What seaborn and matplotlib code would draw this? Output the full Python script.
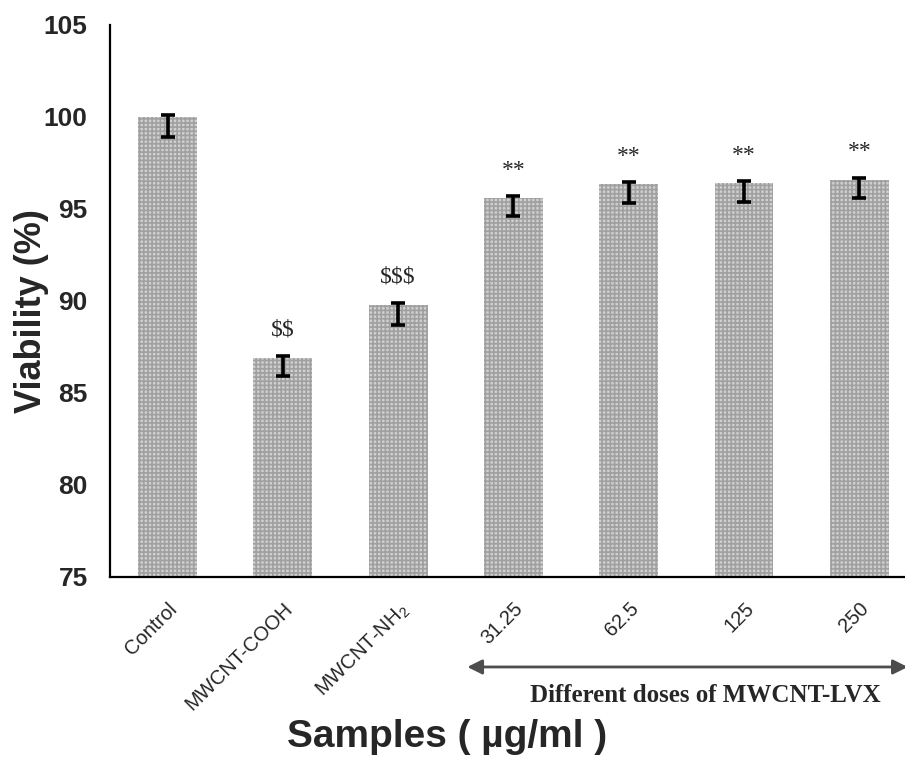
import matplotlib
matplotlib.use("Agg")
import matplotlib.pyplot as plt
import matplotlib.transforms as mtransforms
import seaborn as sns
import numpy as np

# ─── Data ─────────────────────────────────────────────────────────────────────
samples = ["Control", "MWCNT-COOH", r"MWCNT-NH$_\mathregular{2}$",
           "31.25", "62.5", "125", "250"]
viability = [100.0, 86.9, 89.8, 95.6, 96.35, 96.4, 96.6]
err_low = [1.1, 1.0, 1.1, 1.0, 1.0, 1.0, 1.0]
err_high = [0.1, 0.1, 0.1, 0.1, 0.1, 0.1, 0.1]
marks = ["", r"\$\$", r"\$\$\$", "**", "**", "**", "**"]

sns.set_theme(style="white")
plt.rcParams["font.family"] = ["Liberation Sans", "DejaVu Sans"]
plt.rcParams["mathtext.fontset"] = "custom"
plt.rcParams["mathtext.rm"] = "Liberation Sans"
plt.rcParams["hatch.linewidth"] = 1.2

fig = plt.figure(figsize=(9.05, 7.61), dpi=100)
ax = fig.add_axes([0.1215, 0.2418, 0.8917, 0.7254])

x = np.arange(len(samples))
sns.barplot(x=x, y=viability, color="#d0d0d0", width=0.51, ax=ax,
            edgecolor="#a0a0a0", linewidth=0, hatch="++++")

ax.errorbar(x, viability, yerr=[err_low, err_high], fmt="none", ecolor="black",
            elinewidth=2.6, capsize=4.8, capthick=2.6)

for xi, v, m in zip(x, viability, marks):
    if m:
        ax.text(xi, v + 1.2, m, ha="center", va="baseline", fontsize=17,
                family="Liberation Serif")

ax.set_xlim(-0.5, len(samples) - 0.5)
ax.set_ylim(75, 105)
ax.set_yticks(np.arange(75, 106, 5))
ax.set_xticks(x)
ax.set_xticklabels(samples, rotation=45, ha="right", va="top",
                   rotation_mode="anchor", fontsize=14.5)
for t in ax.get_yticklabels():
    t.set_fontweight("bold")
    t.set_fontsize(19)

# ticks between categories (Excel style)
ax.set_xticks(np.arange(-0.5, len(samples), 1), minor=True)
ax.tick_params(axis="x", which="major", length=0, pad=16)
ax.tick_params(axis="x", which="minor", length=6, width=1.5, direction="out", color="black")
ax.tick_params(axis="y", length=6, width=1.5, direction="out", color="black", pad=10)

for side in ["top", "right"]:
    ax.spines[side].set_visible(False)
for side in ["left", "bottom"]:
    ax.spines[side].set_color("black")
    ax.spines[side].set_linewidth(1.6)

ax.set_ylabel("Viability (%)", fontsize=26, fontweight="bold")
ax.yaxis.set_label_coords(-0.075, 0.482)
ax.set_xlabel("Samples ( µg/ml )", fontsize=28, fontweight="bold")
ax.xaxis.set_label_coords(0.418, -0.258)

# double arrow marking the MWCNT-LVX dose group
trans = mtransforms.blended_transform_factory(ax.transData, ax.transAxes)
ax.annotate("", xy=(6.42, -0.163), xytext=(2.6, -0.163), xycoords=trans,
            textcoords=trans, annotation_clip=False,
            arrowprops=dict(arrowstyle="<|-|>", color="#4d4d4d", lw=2,
                            mutation_scale=22, shrinkA=0, shrinkB=0))
ax.text(4.66, -0.215, "Different doses of MWCNT-LVX", transform=trans,
        ha="center", va="center", fontsize=18, fontweight="bold",
        family="Liberation Serif")

fig.savefig("out.png", dpi=100)
